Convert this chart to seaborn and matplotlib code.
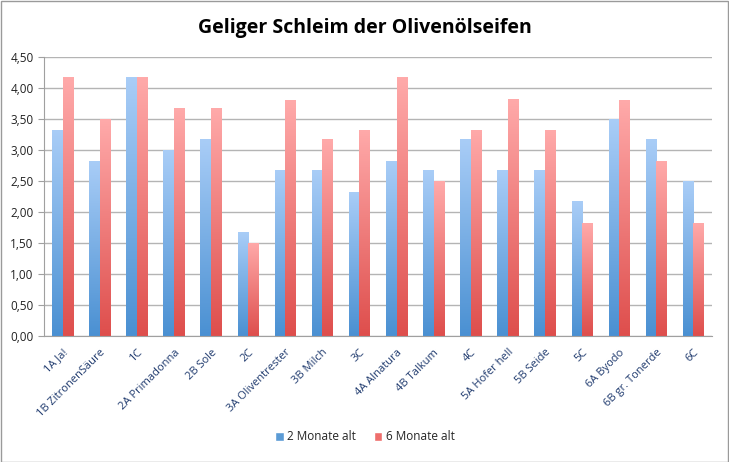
import matplotlib
matplotlib.use("Agg")
import matplotlib.pyplot as plt
import seaborn as sns
import numpy as np
import pandas as pd
from matplotlib.colors import LinearSegmentedColormap
from matplotlib.ticker import FuncFormatter, MultipleLocator
from matplotlib.patches import Rectangle

categories = ["1A Ja!", "1B ZitronenSäure", "1C", "2A Primadonna", "2B Sole", "2C",
              "3A Oliventrester", "3B Milch", "3C", "4A Alnatura", "4B Talkum", "4C",
              "5A Hofer hell", "5B Seide", "5C", "6A Byodo", "6B gr. Tonerde", "6C"]
series_names = ["2 Monate alt", "6 Monate alt"]
values_2m = [3.33, 2.83, 4.17, 3.00, 3.17, 1.67, 2.67, 2.67, 2.33, 2.83, 2.67, 3.17,
             2.67, 2.67, 2.17, 3.50, 3.17, 2.50]
values_6m = [4.17, 3.50, 4.17, 3.67, 3.67, 1.50, 3.80, 3.17, 3.33, 4.17, 2.50, 3.33,
             3.83, 3.33, 1.83, 3.80, 2.83, 1.83]
title = "Geliger Schleim der Olivenölseifen"

df = pd.DataFrame({
    "cat": categories * 2,
    "val": values_2m + values_6m,
    "series": [series_names[0]] * len(categories) + [series_names[1]] * len(categories),
})

sns.set_style("white")
plt.rcParams['font.family'] = ['Open Sans', 'DejaVu Sans']

fig = plt.figure(figsize=(7.29, 4.62), dpi=100)
ax = fig.add_axes([44 / 729, 1 - 336 / 462, (712 - 44) / 729, (336 - 57) / 462])

blue_c = "#5B9BD5"
red_c = "#E8605E"
sns.barplot(data=df, x="cat", y="val", hue="series", palette=[blue_c, red_c],
            width=0.57, ax=ax, legend=False, order=categories, hue_order=series_names)

grads = [
    LinearSegmentedColormap.from_list("b", ["#4A90D2", "#A9CDF7"]),
    LinearSegmentedColormap.from_list("r", ["#DE4E4C", "#FFAAAA"]),
]
grad = np.linspace(0, 1, 256).reshape(-1, 1)
patches = list(ax.patches)
n = len(categories)
for i, p in enumerate(patches):
    cmap = grads[0] if i < n else grads[1]
    x0, y0 = p.get_x(), p.get_y()
    w, h = p.get_width(), p.get_height()
    p.set_facecolor("none")
    p.set_edgecolor("none")
    im = ax.imshow(grad, cmap=cmap, origin="lower", aspect="auto",
                   extent=[x0, x0 + w, y0, y0 + h], zorder=2)
    im.set_clip_path(p)
ax.set_xlim(-0.5, n - 0.5)
ax.set_ylim(0, 4.5)
ax.yaxis.set_major_locator(MultipleLocator(0.5))
ax.yaxis.set_major_formatter(FuncFormatter(lambda v, _: f"{v:.2f}".replace(".", ",")))
ax.grid(axis="y", color="#B4B4B4", linewidth=1.0, zorder=0)
ax.set_axisbelow(True)
for s in ["top", "right"]:
    ax.spines[s].set_visible(False)
ax.spines["left"].set_color("#A0A0A0")
ax.spines["bottom"].set_color("#A0A0A0")
ax.set_xlabel("")
ax.set_ylabel("")

ax.set_xticks(np.arange(n))
ax.set_xticklabels(categories, rotation=45, ha="right", rotation_mode="anchor",
                   fontsize=8, color="#1F3A6E")
ax.tick_params(axis="x", length=0, pad=8)
ax.set_xticks(np.arange(n + 1) - 0.5, minor=True)
ax.tick_params(axis="x", which="minor", length=4, color="#A0A0A0", direction="out")
ax.tick_params(axis="y", labelsize=8.5, length=4, color="#A0A0A0", direction="out",
               left=True, labelcolor="#222222")

fig.text(365 / 729, 1 - 28 / 462, title, ha="center", va="center",
         fontsize=14, fontweight="bold", color="black")

handles = [Rectangle((0, 0), 1, 1, facecolor="#5B9BD5"),
           Rectangle((0, 0), 1, 1, facecolor="#EE6E6C")]
fig.legend(handles, series_names, loc="center", bbox_to_anchor=(365 / 729, 1 - 437 / 462),
           ncol=2, frameon=False, fontsize=8.5, handlelength=0.7, handleheight=0.7,
           handletextpad=0.3, columnspacing=1.5)

fig.add_artist(Rectangle((0.5 / 729, 0.5 / 462), 1 - 1.5 / 729, 1 - 1.5 / 462,
                         transform=fig.transFigure, fill=False, edgecolor="#9A9A9A",
                         linewidth=1))

fig.savefig("out.png", dpi=100)
